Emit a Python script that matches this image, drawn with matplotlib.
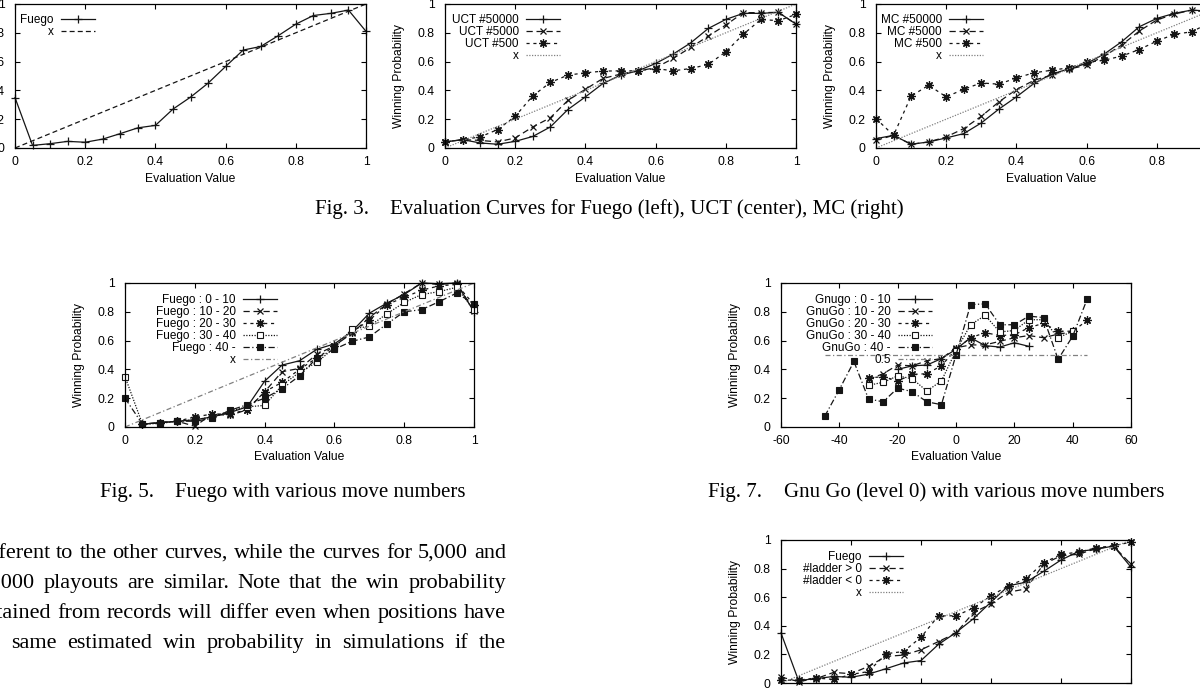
import matplotlib
matplotlib.use('Agg')
import matplotlib.pyplot as plt
from matplotlib.ticker import MultipleLocator, FormatStrFormatter

W, H = 1200, 691
plt.rcParams['font.family'] = ['Liberation Sans', 'DejaVu Sans']

# evaluation values (x) for Fuego / UCT / MC curves
ev = [0, 0.05, 0.1, 0.15, 0.2, 0.25, 0.3, 0.35, 0.4, 0.45, 0.5,
      0.55, 0.6, 0.65, 0.7, 0.75, 0.8, 0.85, 0.9, 0.95, 1.0]
diag = [0, 1]

# Fig. 3 left
fuego = [0.35, 0.018, 0.03, 0.046, 0.04, 0.062, 0.10, 0.14, 0.157, 0.27, 0.353,
         0.45, 0.566, 0.68, 0.705, 0.78, 0.86, 0.92, 0.935, 0.958, 0.81]

# Fig. 3 center
uct_50000 = [0.042, 0.058, 0.035, 0.026, 0.046, 0.08, 0.146, 0.267, 0.355, 0.448, 0.506,
             0.536, 0.587, 0.652, 0.73, 0.83, 0.893, 0.935, 0.935, 0.942, 0.86]
uct_5000 = [0.042, 0.058, 0.053, 0.042, 0.07, 0.146, 0.21, 0.33, 0.408, 0.483, 0.513,
            0.536, 0.557, 0.622, 0.698, 0.777, 0.854, 0.94, 0.94, 0.942, 0.86]
uct_500 = [0.042, 0.058, 0.077, 0.128, 0.22, 0.362, 0.455, 0.506, 0.522, 0.534, 0.536,
           0.536, 0.552, 0.536, 0.552, 0.58, 0.668, 0.79, 0.893, 0.884, 0.928]

# Fig. 3 right
mc_50000 = [0.065, 0.088, 0.026, 0.042, 0.07, 0.10, 0.174, 0.27, 0.355, 0.448, 0.513,
            0.55, 0.587, 0.652, 0.738, 0.842, 0.90, 0.935, 0.958, 0.95, 0.90]
mc_5000 = [0.053, 0.088, 0.026, 0.042, 0.077, 0.135, 0.22, 0.32, 0.406, 0.47, 0.506,
           0.548, 0.575, 0.638, 0.715, 0.812, 0.889, 0.93, 0.958, 0.94, 0.90]
mc_500 = [0.204, 0.088, 0.36, 0.436, 0.355, 0.408, 0.452, 0.443, 0.487, 0.522, 0.54,
          0.557, 0.594, 0.61, 0.638, 0.684, 0.742, 0.79, 0.807, 0.87, 0.92]

# Fig. 5 (first three series start at 0.05)
f_0_10 = [0.02, 0.03, 0.04, 0.05, 0.07, 0.10, 0.14, 0.318, 0.43, 0.46,
          0.54, 0.577, 0.663, 0.79, 0.86, 0.92, 1.0, 0.995, 1.0, 0.80]
f_10_20 = [0.02, 0.03, 0.04, 0.005, 0.09, 0.08, 0.12, 0.244, 0.384, 0.407,
           0.505, 0.563, 0.651, 0.76, 0.853, 0.926, 1.0, 0.99, 1.0, 0.807]
f_20_30 = [0.02, 0.03, 0.04, 0.07, 0.09, 0.09, 0.12, 0.245, 0.31, 0.40,
           0.48, 0.56, 0.66, 0.74, 0.85, 0.90, 0.95, 0.98, 0.99, 0.85]
f_30_40 = [0.35, 0.02, 0.025, 0.04, 0.05, 0.07, 0.11, 0.14, 0.15, 0.29, 0.38,
           0.45, 0.55, 0.68, 0.70, 0.785, 0.865, 0.92, 0.94, 0.97, 0.81]
f_40 = [0.2, 0.02, 0.03, 0.04, 0.04, 0.06, 0.115, 0.155, 0.20, 0.265, 0.355,
        0.48, 0.54, 0.595, 0.625, 0.715, 0.80, 0.815, 0.87, 0.93, 0.855]

# Fig. 7 (GnuGo)
gx_40 = [-45, -40, -35, -30, -25, -20, -15, -10, -5, 0, 5, 10, 15, 20, 25, 30, 35, 40, 45]
g_40 = [0.075, 0.26, 0.455, 0.195, 0.175, 0.27, 0.245, 0.175, 0.155, 0.50,
        0.85, 0.855, 0.71, 0.71, 0.77, 0.76, 0.47, 0.63, 0.89]
gx_0_10 = [-20, -15, -10, -5, 0, 5, 10, 15, 20, 25]
g_0_10 = [0.40, 0.425, 0.43, 0.475, 0.54, 0.62, 0.565, 0.555, 0.585, 0.56]
gx_10_20 = [-30, -25, -20, -15, -10, -5, 0, 5, 10, 15, 20, 25, 30, 35, 40]
g_10_20 = [0.33, 0.37, 0.43, 0.425, 0.46, 0.475, 0.55, 0.57, 0.57, 0.595, 0.62, 0.635, 0.62, 0.645, 0.66]
gx_20_30 = [-30, -25, -20, -15, -10, -5, 0, 5, 10, 15, 20, 25, 30, 35, 40, 45]
g_20_30 = [0.34, 0.35, 0.32, 0.365, 0.37, 0.425, 0.54, 0.62, 0.655, 0.635, 0.64, 0.69, 0.72, 0.665, 0.665, 0.74]
gx_30_40 = [-30, -25, -20, -15, -10, -5, 0, 5, 10, 15, 20, 25, 30, 35, 40]
g_30_40 = [0.29, 0.31, 0.355, 0.335, 0.25, 0.32, 0.53, 0.71, 0.775, 0.66, 0.67, 0.745, 0.745, 0.62, 0.665]
half_x = [-45, 45]
half_y = [0.5, 0.5]

# ladder figure
lad_pos = [0.042, 0.01, 0.03, 0.074, 0.065, 0.116, 0.186, 0.195, 0.232, 0.29, 0.349,
           0.493, 0.553, 0.635, 0.658, 0.83, 0.89, 0.90, 0.94, 0.958, 0.83]
lad_neg = [0.02, 0.02, 0.035, 0.025, 0.06, 0.08, 0.205, 0.22, 0.32, 0.47, 0.47,
           0.525, 0.61, 0.68, 0.73, 0.84, 0.90, 0.915, 0.945, 0.96, 0.985]

body = ["different to the other curves, while the curves for 5,000 and",
        "50,000 playouts are similar. Note that the win probability",
        "obtained from records will differ even when positions have",
        "the same estimated win probability in simulations if the"]

# gnuplot-like line styles
K = '#151515'
G = '#808080'
st1 = dict(color=K, ls='-', marker='+', ms=6, mew=0.9)
st2 = dict(color=K, ls=(0, (5, 3)), marker='x', ms=5, mew=0.9)
st3 = dict(color=K, ls=(0, (2.5, 3)), marker=(8, 2, 0), ms=6, mew=0.9)
st4 = dict(color=G, ls=(0, (1, 1.2)))
st4m = dict(color=K, ls=(0, (1, 1.2)), marker='s', ms=5, mfc='white', mew=0.8)
st5 = dict(color=K, ls=(0, (5, 2, 1, 2)), marker='s', ms=5, mfc=K, mew=0.8)
st6 = dict(color=G, ls=(0, (4, 2, 1, 2)))

fig = plt.figure(figsize=(W / 100, H / 100), dpi=100)


def frame(l, t, r, b, xlim, xstep):
    ax = fig.add_axes([l / W, 1 - b / H, (r - l) / W, (b - t) / H])
    ax.set_xlim(xlim)
    ax.set_ylim(0, 1)
    ax.xaxis.set_major_locator(MultipleLocator(xstep))
    ax.yaxis.set_major_locator(MultipleLocator(0.2))
    ax.xaxis.set_major_formatter(FormatStrFormatter('%g'))
    ax.yaxis.set_major_formatter(FormatStrFormatter('%g'))
    ax.tick_params(direction='in', top=True, right=True, length=3.5, width=0.8,
                   labelsize=8.7)
    ax.tick_params(axis='y', pad=7.5)
    ax.tick_params(axis='x', pad=6)
    ax.set_xlabel('Evaluation Value', fontsize=8.7, labelpad=3)
    ax.set_ylabel('Winning Probability', fontsize=8.7, labelpad=9)
    for s in ax.spines.values():
        s.set_linewidth(0.9)
    return ax


def key(ax, right, top):
    ax.legend(loc='upper right', bbox_to_anchor=(right / W, 1 - top / H),
              bbox_transform=fig.transFigure, frameon=False, markerfirst=False,
              borderpad=0, handlelength=2.9, handletextpad=0.6,
              labelspacing=0.0, fontsize=8.5, numpoints=1)


def draw(ax, x, y, label, style, lw=0.9):
    ax.plot(x, y, label=label, lw=lw, clip_on=False, **style)


# Fig. 3 left
ax = frame(15, 4, 366, 148, (0, 1), 0.2)
draw(ax, ev, fuego, 'Fuego', st1)
draw(ax, diag, diag, 'x', dict(color=K, ls=(0, (4, 2.5))))
key(ax, 101, 8)

# Fig. 3 center
ax = frame(445, 4, 796, 148, (0, 1), 0.2)
draw(ax, ev, uct_50000, 'UCT #50000', st1)
draw(ax, ev, uct_5000, 'UCT #5000', st2)
draw(ax, ev, uct_500, 'UCT #500', st3)
draw(ax, diag, diag, 'x', st4)
key(ax, 566, 8)

# Fig. 3 right
ax = frame(876, 4, 1227, 148, (0, 1), 0.2)
draw(ax, ev, mc_50000, 'MC #50000', st1)
draw(ax, ev, mc_5000, 'MC #5000', st2)
draw(ax, ev, mc_500, 'MC #500', st3)
draw(ax, diag, diag, 'x', st4)
key(ax, 989, 8)

# Fig. 5
ax = frame(125, 283, 474, 427, (0, 1), 0.2)
draw(ax, ev[1:], f_0_10, 'Fuego : 0 - 10', st1)
draw(ax, ev[1:], f_10_20, 'Fuego : 10 - 20', st2)
draw(ax, ev[1:], f_20_30, 'Fuego : 20 - 30', st3)
draw(ax, ev, f_30_40, 'Fuego : 30 - 40', st4m)
draw(ax, ev, f_40, 'Fuego : 40 -', st5)
draw(ax, diag, diag, 'x', st6)
key(ax, 283, 288)

# Fig. 7
ax = frame(781, 283, 1131, 427, (-60, 60), 20)
draw(ax, gx_0_10, g_0_10, 'Gnugo : 0 - 10', st1)
draw(ax, gx_10_20, g_10_20, 'GnuGo : 10 - 20', st2)
draw(ax, gx_20_30, g_20_30, 'GnuGo : 20 - 30', st3)
draw(ax, gx_30_40, g_30_40, 'GnuGo : 30 - 40', st4m)
draw(ax, gx_40, g_40, 'GnuGo : 40 -', st5)
draw(ax, half_x, half_y, '0.5', st6)
key(ax, 938, 288)

# ladder figure
ax = frame(781, 540, 1131, 683, (0, 1), 0.2)
draw(ax, ev, fuego, 'Fuego', st1)
draw(ax, ev, lad_pos, '#ladder > 0', st2)
draw(ax, ev, lad_neg, '#ladder < 0', st3)
draw(ax, diag, diag, 'x', st4)
key(ax, 909, 545)

# captions
serif = ['Liberation Serif', 'DejaVu Serif']
cap = dict(fontsize=15, family=serif, va='baseline', ha='left')
fig.text(315 / W, 1 - 214 / H, 'Fig. 3.', **cap)
fig.text(390 / W, 1 - 214 / H, 'Evaluation Curves for Fuego (left), UCT (center), MC (right)', **cap)
fig.text(100 / W, 1 - 497 / H, 'Fig. 5.', **cap)
fig.text(175 / W, 1 - 497 / H, 'Fuego with various move numbers', **cap)
fig.text(708 / W, 1 - 497 / H, 'Fig. 7.', **cap)
fig.text(784 / W, 1 - 497 / H, 'Gnu Go (level 0) with various move numbers', **cap)

# justified body text
renderer = fig.canvas.get_renderer()
for line, base in zip(body, [558, 588, 618, 648]):
    words = line.split()
    arts = [fig.text(0, 1 - base / H, w, fontsize=16, family=serif, va='baseline')
            for w in words]
    widths = [a.get_window_extent(renderer).width for a in arts]
    x0, x1 = -26, 506
    gap = (x1 - x0 - sum(widths)) / (len(words) - 1)
    x = x0
    for a, w in zip(arts, widths):
        a.set_x(x / W)
        x += w + gap

fig.savefig('out.png', dpi=100)
